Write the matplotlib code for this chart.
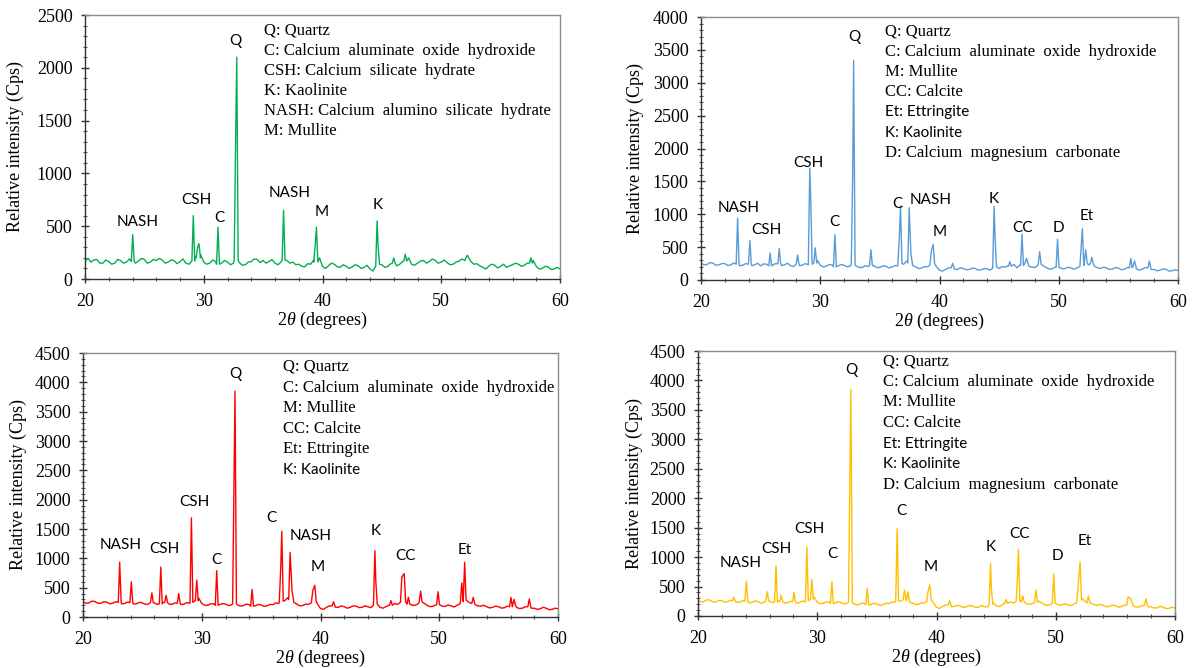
import numpy as np
import matplotlib
matplotlib.use("Agg")
import matplotlib.pyplot as plt
from matplotlib.ticker import MultipleLocator

plt.rcParams['font.family'] = ['Liberation Serif', 'DejaVu Serif']
plt.rcParams['mathtext.fontset'] = 'custom'
plt.rcParams['mathtext.rm'] = 'Liberation Serif'
plt.rcParams['mathtext.it'] = 'Liberation Serif:italic'

SANS = ['Lato', 'DejaVu Sans']

# ---- data (2theta in degrees, intensity in cps) ----
# background level every 0.25 degrees from 20 to 60
base_green = [170, 195, 160, 180, 185, 150, 150, 180, 165, 140, 150, 185, 175, 150, 160, 190, 165, 150, 170, 195,
              185, 150, 160, 185, 175, 195, 180, 150, 160, 180, 175, 145, 165, 190, 150, 140, 170, 215, 200, 230,
              160, 140, 150, 180, 165, 140, 150, 175, 160, 135, 150, 175, 155, 130, 135, 160, 165, 190, 185, 155,
              175, 150, 165, 185, 150, 135, 160, 180, 175, 150, 160, 135, 140, 120, 115, 145, 140, 180, 160, 200,
              120, 100, 125, 150, 140, 115, 110, 135, 120, 100, 115, 135, 125, 100, 110, 130, 95, 75, 120, 140,
              135, 110, 120, 145, 150, 125, 140, 165, 170, 200, 140, 130, 150, 170, 175, 150, 165, 190, 175, 150,
              160, 180, 155, 135, 140, 160, 170, 190, 175, 200, 165, 140, 145, 125, 110, 95, 120, 140, 130, 105,
              120, 140, 110, 125, 135, 150, 140, 120, 130, 150, 150, 175, 120, 95, 100, 120, 115, 90, 95, 110,
              95]
base_blue = [260, 230, 235, 265, 255, 225, 230, 250, 250, 220, 230, 260, 240, 215, 225, 250, 240, 220, 230, 255,
             215, 245, 240, 215, 225, 250, 245, 220, 230, 255, 220, 205, 240, 220, 225, 250, 230, 240, 260, 300,
             225, 200, 210, 235, 230, 200, 215, 235, 225, 200, 210, 230, 215, 190, 190, 215, 205, 220, 215, 190,
             190, 215, 210, 185, 195, 220, 215, 250, 240, 290, 260, 220, 200, 175, 180, 205, 200, 230, 250, 200,
             150, 135, 160, 185, 185, 165, 160, 185, 175, 155, 160, 180, 175, 150, 155, 175, 170, 150, 180, 200,
             175, 205, 195, 215, 210, 235, 185, 230, 220, 260, 210, 195, 190, 225, 240, 210, 185, 165, 175, 200,
             195, 175, 170, 195, 185, 165, 180, 205, 220, 260, 230, 250, 210, 185, 175, 195, 185, 160, 165, 190,
             180, 155, 165, 190, 185, 210, 170, 150, 165, 190, 185, 160, 160, 140, 150, 170, 160, 135, 140, 155,
             145]
base_red = [260, 235, 240, 270, 265, 235, 235, 260, 255, 225, 235, 260, 250, 225, 230, 255, 245, 220, 225, 250,
            240, 215, 220, 245, 240, 215, 225, 250, 245, 220, 215, 240, 235, 210, 220, 245, 235, 250, 280, 320,
            230, 200, 200, 225, 225, 200, 210, 230, 220, 195, 205, 225, 210, 185, 195, 220, 210, 185, 190, 215,
            205, 180, 190, 215, 210, 240, 230, 270, 280, 330, 300, 250, 220, 190, 195, 220, 215, 240, 260, 220,
            145, 130, 165, 190, 190, 165, 165, 190, 175, 150, 165, 190, 185, 160, 165, 190, 175, 160, 200, 220,
            165, 150, 175, 200, 200, 230, 215, 250, 250, 240, 220, 200, 200, 230, 260, 230, 195, 175, 185, 210,
            210, 185, 180, 205, 190, 170, 200, 225, 260, 290, 250, 230, 215, 190, 185, 200, 175, 155, 165, 185,
            175, 150, 160, 185, 175, 200, 165, 145, 150, 175, 175, 150, 150, 130, 140, 165, 150, 125, 130, 150,
            140]
base_yellow = [265, 240, 245, 275, 270, 240, 240, 265, 260, 235, 245, 270, 255, 230, 235, 260, 250, 225, 230, 255,
               245, 220, 230, 255, 250, 225, 235, 260, 245, 220, 225, 250, 240, 215, 230, 255, 240, 260, 285, 320,
               235, 210, 215, 240, 235, 210, 220, 245, 230, 205, 215, 235, 215, 190, 195, 220, 210, 190, 195, 220,
               205, 180, 190, 215, 210, 240, 230, 255, 250, 275, 260, 235, 220, 195, 200, 225, 220, 245, 270, 225,
               145, 130, 160, 185, 185, 160, 160, 180, 170, 145, 155, 180, 170, 145, 150, 175, 160, 150, 200, 220,
               175, 160, 190, 215, 215, 240, 220, 255, 260, 240, 215, 200, 205, 235, 260, 230, 200, 180, 190, 215,
               215, 190, 185, 210, 190, 175, 200, 225, 270, 290, 240, 225, 215, 190, 180, 200, 175, 155, 165, 185,
               175, 150, 160, 185, 185, 210, 170, 150, 155, 180, 180, 155, 155, 135, 140, 165, 150, 125, 130, 150,
               135]

# reflections: position and top intensity
pk_pos_green = [24.02, 29.12, 29.48, 29.6, 31.2, 32.68, 32.78, 36.72, 39.38, 39.49, 44.6, 44.68,
                46.0, 46.97, 52.2, 57.55]
pk_h_green = [420, 600, 300, 335, 490, 1280, 2100, 650, 310, 490, 550, 320, 200, 235, 225, 200]

pk_pos_blue = [23.07, 24.1, 25.8, 26.56, 28.1, 29.12, 29.2, 29.58, 31.23, 32.72, 32.8, 34.25, 36.62,
               36.73, 37.46, 37.6, 39.32, 39.47, 41.1, 44.58, 44.66, 45.9, 46.92, 47.3, 48.4, 49.9,
               51.9, 51.98, 52.26, 52.77, 56.04, 56.35, 57.6]
pk_h_blue = [940, 600, 410, 480, 380, 1700, 1250, 490, 690, 1600, 3340, 460, 600, 1130, 1100, 400,
             450, 540, 254, 1120, 650, 280, 700, 330, 430, 620, 550, 780, 460, 345, 327, 290, 290]

pk_pos_red = [23.09, 24.07, 25.8, 26.55, 27.0, 28.06, 29.13, 29.58, 31.26, 32.72, 32.8, 34.24, 36.65,
              36.74, 37.44, 37.6, 39.35, 39.52, 41.1, 44.58, 44.66, 45.93, 46.85, 47.05, 47.4, 48.43,
              49.9, 51.9, 52.14, 52.86, 56.04, 56.3, 57.58]
pk_h_red = [935, 600, 410, 850, 370, 400, 1690, 630, 790, 2350, 3850, 470, 830, 1460, 1100, 450, 450,
            540, 260, 1130, 600, 278, 680, 740, 335, 440, 430, 580, 930, 335, 335, 300, 307]

pk_pos_yellow = [23.0, 24.05, 25.81, 26.54, 26.98, 28.05, 29.13, 29.55, 31.23, 32.74, 32.82, 34.19,
                 36.7, 37.32, 37.6, 39.3, 39.44, 41.1, 44.53, 44.6, 45.84, 46.8, 46.87, 47.23, 48.35,
                 49.83, 51.9, 52.04, 52.74, 56.07, 56.3, 57.56]
pk_h_yellow = [320, 595, 410, 850, 350, 400, 1170, 620, 580, 2350, 3850, 470, 1480, 440, 410, 430, 525,
               260, 895, 470, 282, 700, 1135, 340, 440, 710, 580, 920, 340, 325, 290, 296]

ymax_list = [2500, 4000, 4500, 4500]

legend_green = ["Q: Quartz", "C: Calcium  aluminate  oxide  hydroxide", "CSH: Calcium  silicate  hydrate",
                "K: Kaolinite", "NASH: Calcium  alumino  silicate  hydrate", "M: Mullite"]
legend_blue = ["Q: Quartz", "C: Calcium  aluminate  oxide  hydroxide", "M: Mullite", "CC: Calcite",
               "Et: Ettringite", "K: Kaolinite", "D: Calcium  magnesium  carbonate"]
legend_red = ["Q: Quartz", "C: Calcium  aluminate  oxide  hydroxide", "M: Mullite", "CC: Calcite",
              "Et: Ettringite", "K: Kaolinite"]
legend_yellow = ["Q: Quartz", "C: Calcium  aluminate  oxide  hydroxide", "M: Mullite", "CC: Calcite",
                 "Et: Ettringite", "K: Kaolinite", "D: Calcium  magnesium  carbonate"]
# legend lines that are set in a sans face in the original
legend_sans = [[], ["Et: Ettringite", "K: Kaolinite"], ["K: Kaolinite"], ["Et: Ettringite", "K: Kaolinite"]]

# peak labels (text, x in degrees, y in cps)
tags_green = [("NASH", 24.4, 540), ("CSH", 29.36, 750), ("C", 31.3, 580), ("Q", 32.7, 2250),
              ("NASH", 37.27, 815), ("M", 39.94, 630), ("K", 44.66, 700)]
tags_blue = [("NASH", 23.14, 1100), ("CSH", 25.5, 755), ("CSH", 29.03, 1775), ("C", 31.16, 885),
             ("Q", 32.9, 3690), ("C", 36.45, 1160), ("NASH", 39.24, 1210), ("M", 40.03, 735),
             ("K", 44.53, 1235), ("CC", 46.94, 795), ("D", 49.95, 795), ("Et", 52.33, 970)]
tags_red = [("NASH", 23.19, 1235), ("CSH", 26.85, 1160), ("CSH", 29.36, 1960), ("C", 31.2, 965),
            ("Q", 32.87, 4150), ("C", 35.9, 1690), ("NASH", 39.18, 1375), ("M", 39.79, 850),
            ("K", 44.68, 1470), ("CC", 47.19, 1035), ("Et", 52.11, 1150)]
tags_yellow = [("NASH", 23.55, 895), ("CSH", 26.59, 1135), ("CSH", 29.32, 1475), ("C", 31.25, 1055),
               ("Q", 32.84, 4170), ("C", 37.02, 1775), ("M", 39.52, 825), ("K", 44.56, 1170),
               ("CC", 47.0, 1395), ("D", 50.11, 1020), ("Et", 52.42, 1280)]


def trace(base, pos, hgt, hw=0.12):
    grid = np.linspace(20, 60, len(base))
    step = grid[1] - grid[0]
    pos = np.asarray(pos)
    xs, ys = [], []

    def free(x):
        return not np.any(np.abs(x - pos) < hw - 1e-9)

    for x, y in zip(grid, base):
        if free(x):
            xs.append(x)
            ys.append(y)
    for p, h in zip(pos, hgt):
        b = base[int(round((p - 20) / step))]
        for fx in (p - hw, p + hw):
            if free(fx):
                xs.append(fx)
                ys.append(b)
        xs.append(p)
        ys.append(h)
    order = np.argsort(xs, kind='stable')
    return np.array(xs)[order], np.array(ys)[order]


fig = plt.figure(figsize=(11.92, 6.68), dpi=100)
W, H = 1192, 668
# axes boxes in pixels: left, right, top, bottom
boxes = [(85, 560, 15, 279), (701, 1178, 17, 280), (83, 558, 353, 617), (698, 1175, 351, 616)]
colors = ['#00B050', '#5B9BD5', '#FF0000', '#FFC000']
bases = [base_green, base_blue, base_red, base_yellow]
pk_pos = [pk_pos_green, pk_pos_blue, pk_pos_red, pk_pos_yellow]
pk_h = [pk_h_green, pk_h_blue, pk_h_red, pk_h_yellow]
legends = [legend_green, legend_blue, legend_red, legend_yellow]
tags = [tags_green, tags_blue, tags_red, tags_yellow]
leg_xy = [(0.377, 0.940, 0.076), (0.386, 0.945, 0.077), (0.421, 0.947, 0.078), (0.387, 0.962, 0.078)]
ylab_x = [-0.147, -0.138, -0.137, -0.134]

for i in range(4):
    l, r, t, b = boxes[i]
    ax = fig.add_axes([l / W, (H - b) / H, (r - l) / W, (b - t) / H])
    x, y = trace(bases[i], pk_pos[i], pk_h[i])
    ax.plot(x, y, color=colors[i], lw=1.0)

    ax.set_xlim(20, 60)
    ax.set_ylim(0, ymax_list[i])
    ax.xaxis.set_major_locator(MultipleLocator(10))
    ax.xaxis.set_minor_locator(MultipleLocator(2))
    ax.yaxis.set_major_locator(MultipleLocator(500))
    ax.yaxis.set_minor_locator(MultipleLocator(100))
    ax.tick_params(which='major', direction='inout', length=6, width=1, labelsize=13, color='#333333')
    ax.tick_params(which='minor', direction='inout', length=3.5, width=0.8, color='#555555')
    ax.tick_params(axis='y', which='major', pad=6)
    ax.tick_params(axis='x', which='major', pad=7)
    ax.tick_params(top=False, right=False, which='both')
    for s in ['top', 'right']:
        ax.spines[s].set_color('#8c8c8c')
        ax.spines[s].set_linewidth(1.0)
    for s in ['left', 'bottom']:
        ax.spines[s].set_color('#333333')
        ax.spines[s].set_linewidth(1.0)

    ax.set_ylabel('Relative intensity (Cps)', fontsize=13)
    ax.yaxis.set_label_coords(ylab_x[i], 0.5)
    ax.yaxis.label.set_verticalalignment('center')
    ax.set_xlabel(r'2$\theta$ (degrees)', fontsize=13)
    ax.xaxis.set_label_coords(0.5, -0.158)
    ax.xaxis.label.set_verticalalignment('center')

    lx, ly, step = leg_xy[i]
    for k, line in enumerate(legends[i]):
        if line in legend_sans[i]:
            ax.text(lx, ly - k * step, line, transform=ax.transAxes, va='center', ha='left',
                    fontsize=11, family=SANS)
        else:
            ax.text(lx, ly - k * step, line, transform=ax.transAxes, va='center', ha='left',
                    fontsize=12)

    for name, tx, ty in tags[i]:
        ax.text(tx, ty, name, ha='center', va='center', fontsize=11, family=SANS)

fig.savefig('out.png', dpi=100)
